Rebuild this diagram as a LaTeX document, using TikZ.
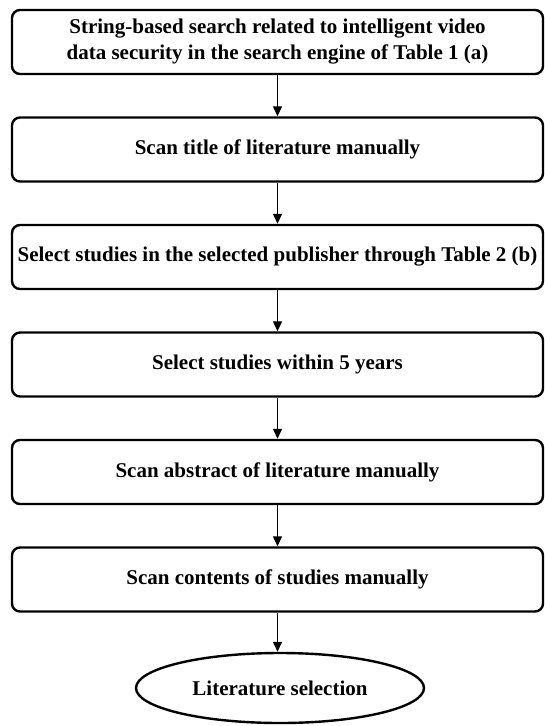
\documentclass[tikz,border=0pt]{standalone}
\usepackage{fontspec}
\setmainfont{Liberation Serif}
\usetikzlibrary{shapes.geometric,arrows.meta}

\begin{document}
\begin{tikzpicture}[x=1pt,y=-1pt,
    stepbox/.style={draw,line width=2.4pt,rounded corners=8pt,minimum width=531pt,
      minimum height=64pt,align=center,inner xsep=0pt,
      font=\fontsize{21}{26}\selectfont\bfseries},
    endbox/.style={draw,ellipse,line width=2.4pt,minimum width=288pt,minimum height=70pt,
      inner sep=0pt,font=\fontsize{21}{26}\selectfont\bfseries},
    flow/.style={-{Triangle[length=10pt,width=9pt]},line width=1.3pt}]
  \def\cx{277.5}
  \def\dy{107.5}
  \useasboundingbox (0,0) rectangle (545,726);

  % Steps
  \node[stepbox] (search) at (\cx,42) {String-based search related to intelligent video\\data security in the search engine of Table 1 (a)};
  \node[stepbox] (title) at (\cx,42+\dy) {Scan title of literature manually};
  \node[stepbox] (publisher) at (\cx,42+2*\dy) {Select studies in the selected publisher through Table 2 (b)};
  \node[stepbox] (years) at (\cx,42+3*\dy) {Select studies within 5 years};
  \node[stepbox] (abstract) at (\cx,42+4*\dy) {Scan abstract of literature manually};
  \node[stepbox] (contents) at (\cx,42+5*\dy) {Scan contents of studies manually};

  % Result
  \node[endbox] (selection) at (280,688) {Literature selection};

  % Arrows
  \draw[flow] (search) -- (title);
  \draw[flow] (title) -- (publisher);
  \draw[flow] (publisher) -- (years);
  \draw[flow] (years) -- (abstract);
  \draw[flow] (abstract) -- (contents);
  \draw[flow] (contents) -- (contents.south |- selection.north);
\end{tikzpicture}
\end{document}
